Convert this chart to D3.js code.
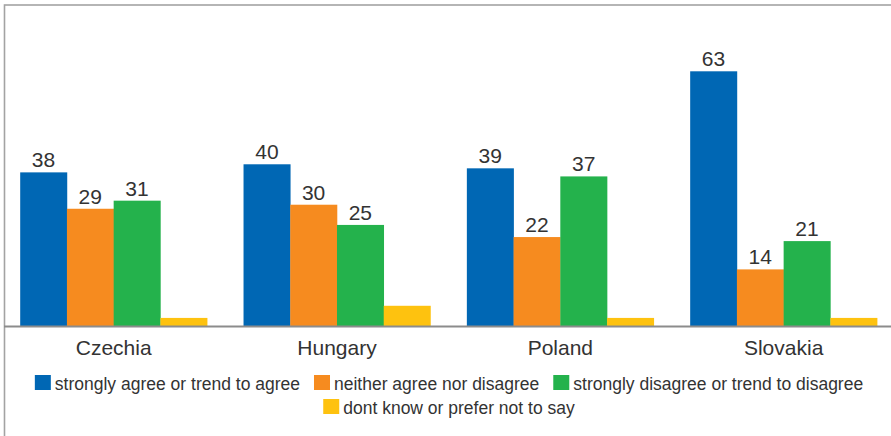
<!DOCTYPE html>
<html>
<head>
<meta charset="utf-8">
<script src="https://cdn.jsdelivr.net/npm/d3@7"></script>
<style>
  html, body { margin: 0; padding: 0; background: #fff; }
  svg { display: block; font-family: "Liberation Sans", Arial, Helvetica, sans-serif; }
</style>
</head>
<body>
<svg id="chart" width="891" height="436"></svg>
<script>
// Survey answers by country (percent)
const countries = ["Czechia", "Hungary", "Poland", "Slovakia"];
const seriesNames = [
  "strongly agree or trend to agree",
  "neither agree nor disagree",
  "strongly disagree or trend to disagree",
  "dont know or prefer not to say"
];
const agree = [38, 40, 39, 63];
const neither = [29, 30, 22, 14];
const disagree = [31, 25, 37, 21];
const dontKnow = [2, 5, 2, 2];
const showLabel = [true, true, true, false];
const seriesColors = ["#0067b4", "#f68b1f", "#24b24c", "#fec20f"];

const seriesValues = [agree, neither, disagree, dontKnow];

const svg = d3.select("#chart");
const W = 891, H = 436;
const baseY = 326;

// outer frame (only top and left edges fall inside the view)
svg.append("rect")
  .attr("x", 4.5).attr("y", 5)
  .attr("width", 940).attr("height", 500)
  .attr("fill", "none")
  .attr("stroke", "#a3a3a3")
  .attr("stroke-width", 1.6);

const x0 = d3.scaleBand()
  .domain(countries)
  .range([2, 895.3])
  .paddingInner(0.163)
  .paddingOuter(0.0815);

const x1 = d3.scaleBand()
  .domain(d3.range(seriesNames.length))
  .range([0, x0.bandwidth()]);

const y = d3.scaleLinear().domain([0, 70]).range([baseY, 43]);

const groups = svg.append("g").selectAll("g")
  .data(countries)
  .join("g")
  .attr("transform", d => `translate(${x0(d)},0)`);

groups.each(function(c, ci) {
  const g = d3.select(this);
  seriesValues.forEach((vals, si) => {
    const v = vals[ci];
    g.append("rect")
      .attr("x", x1(si))
      .attr("y", y(v))
      .attr("width", x1.bandwidth() + 0.3)
      .attr("height", baseY - y(v))
      .attr("fill", seriesColors[si]);
    if (showLabel[si]) {
      g.append("text")
        .attr("x", x1(si) + x1.bandwidth() / 2)
        .attr("y", y(v) - 5)
        .attr("text-anchor", "middle")
        .attr("font-size", 21)
        .attr("fill", "#333")
        .text(v);
    }
  });
});

// baseline axis
const xAxis = d3.axisBottom(x0).tickSize(0).tickPadding(0);
const axisG = svg.append("g")
  .attr("transform", `translate(0,${baseY})`)
  .call(xAxis);
axisG.select(".domain").remove();
axisG.selectAll("text")
  .attr("dy", null)
  .attr("y", 29)
  .attr("font-size", 21)
  .attr("font-family", "\"Liberation Sans\", Arial, sans-serif")
  .attr("fill", "#333");

svg.append("line")
  .attr("x1", 4).attr("x2", W)
  .attr("y1", baseY + 0.5).attr("y2", baseY + 0.5)
  .attr("stroke", "#8c8c8c")
  .attr("stroke-width", 2.2);

// legend: two centred rows
const legendRows = [[0, 1, 2], [3]];
const legendCenter = 449;
const legendFont = 17.5;
const sw = 16, gapSwatch = 4, gapItem = 14;
legendRows.forEach((row, ri) => {
  const rowBase = 390 + ri * 24;
  const lg = svg.append("g");
  let cx = 0;
  row.forEach(si => {
    const item = lg.append("g").attr("transform", `translate(${cx},0)`);
    item.append("rect")
      .attr("x", 0).attr("y", rowBase - 15)
      .attr("width", sw).attr("height", 15)
      .attr("fill", seriesColors[si]);
    const t = item.append("text")
      .attr("x", sw + gapSwatch).attr("y", rowBase)
      .attr("font-size", legendFont)
      .attr("fill", "#333")
      .text(seriesNames[si]);
    cx += sw + gapSwatch + t.node().getComputedTextLength() + gapItem;
  });
  const total = cx - gapItem;
  lg.attr("transform", `translate(${legendCenter - total / 2},0)`);
});
</script>
</body>
</html>
